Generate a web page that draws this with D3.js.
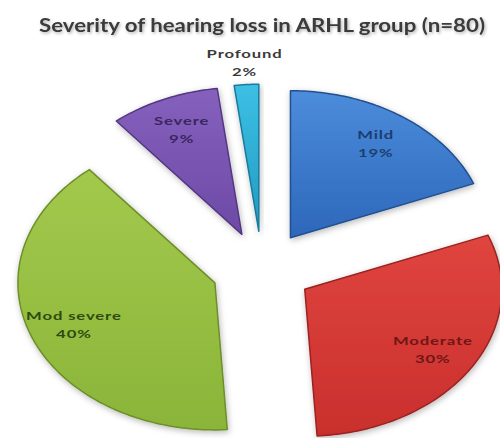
<!DOCTYPE html>
<html>
<head>
<meta charset="utf-8">
<script src="https://cdn.jsdelivr.net/npm/d3@7"></script>
<style>
  body { margin: 0; background: #fff; }
  svg { display: block; }
</style>
</head>
<body>
<svg id="chart" width="500" height="438"></svg>
<script>
// Severity of hearing loss, percentage of the ARHL group in each category
const title = "Severity of hearing loss in ARHL group (n=80)";
const categories = ["Mild", "Moderate", "Mod severe", "Severe", "Profound"];
const shares = [19, 30, 40, 9, 2];

// slice fills: light top, dark bottom, outline, label ink
const palette = [
  { top: "#4c8cdb", bottom: "#2d67ba", edge: "#21508f", ink: "#1c3d70" },
  { top: "#e0453f", bottom: "#c92f2d", edge: "#9a2321", ink: "#6e1616" },
  { top: "#a3c94c", bottom: "#8ab539", edge: "#6d8f2a", ink: "#2f4a0f" },
  { top: "#8561bd", bottom: "#6d4aa6", edge: "#533781", ink: "#3a2560" },
  { top: "#3cc0e4", bottom: "#2399c2", edge: "#1a7a9d", ink: "#3a3a3a" }
];

const W = 500, H = 438;
const cx = 262, cy = 269;     // pie centre
const rx = 197, ry = 147;     // pie radii (flattened disc)
const explode = 0.257;        // slice pull-out, in radius units
const labelR = 0.77, outsideR = 1.15;
const textStretch = 1.45;

const svg = d3.select("#chart");

// unit disc -> pixels
const x = d3.scaleLinear().domain([-1, 1]).range([cx - rx, cx + rx]);
const y = d3.scaleLinear().domain([-1, 1]).range([cy - ry, cy + ry]);

const pie = d3.pie().sort(null).value(d => d);
const arcs = pie(shares);

const defs = svg.append("defs");
arcs.forEach((a, i) => {
  const g = defs.append("linearGradient")
    .attr("id", "fill" + i)
    .attr("x1", 0).attr("y1", 0).attr("x2", 0).attr("y2", 1);
  g.append("stop").attr("offset", "0%").attr("stop-color", palette[i].top);
  g.append("stop").attr("offset", "100%").attr("stop-color", palette[i].bottom);
});
const shadow = defs.append("filter").attr("id", "shadow")
  .attr("x", "-20%").attr("y", "-20%").attr("width", "140%").attr("height", "140%");
shadow.append("feDropShadow")
  .attr("dx", 1).attr("dy", 2).attr("stdDeviation", 3)
  .attr("flood-color", "#000").attr("flood-opacity", 0.28);

const titleShadow = defs.append("filter").attr("id", "tshadow")
  .attr("x", "-5%").attr("y", "-40%").attr("width", "110%").attr("height", "180%");
titleShadow.append("feDropShadow")
  .attr("dx", 1).attr("dy", 1.5).attr("stdDeviation", 1.5)
  .attr("flood-color", "#000").attr("flood-opacity", 0.3);

const line = d3.line().x(p => x(p[0])).y(p => y(p[1])).curve(d3.curveLinearClosed);

// outline of one exploded slice in unit coordinates
function sliceOutline(a) {
  const mid = (a.startAngle + a.endAngle) / 2;
  const ox = explode * Math.sin(mid), oy = -explode * Math.cos(mid);
  const pts = [[ox, oy]];
  const steps = Math.max(4, Math.ceil((a.endAngle - a.startAngle) / (Math.PI / 180)));
  for (let k = 0; k <= steps; k++) {
    const t = a.startAngle + (a.endAngle - a.startAngle) * k / steps;
    pts.push([ox + Math.sin(t), oy - Math.cos(t)]);
  }
  return pts;
}

svg.append("g").selectAll("path")
  .data(arcs)
  .join("path")
  .attr("d", a => line(sliceOutline(a)))
  .attr("fill", (a, i) => `url(#fill${i})`)
  .attr("stroke", (a, i) => palette[i].edge)
  .attr("stroke-width", 1.5)
  .attr("stroke-linejoin", "round")
  .attr("filter", "url(#shadow)");

// labels: category name and percentage
const labels = svg.append("g")
  .attr("font-family", "Lato, 'Open Sans', sans-serif")
  .attr("font-weight", "bold")
  .attr("font-size", 11.5)
  .attr("letter-spacing", 0.6)
  .attr("text-anchor", "middle");

arcs.forEach((a, i) => {
  const mid = (a.startAngle + a.endAngle) / 2;
  const r = shares[i] < 5 ? outsideR : labelR;
  const u = explode * Math.sin(mid) + r * Math.sin(mid);
  const v = -explode * Math.cos(mid) - r * Math.cos(mid);
  const t = labels.append("text")
    .attr("transform", `translate(${x(u)},${y(v)}) scale(${textStretch},1)`)
    .attr("fill", palette[i].ink);
  t.append("tspan").attr("x", 0).attr("y", -5).text(categories[i]);
  t.append("tspan").attr("x", 0).attr("y", 13).text(shares[i] + "%");
});

svg.append("text")
  .attr("transform", `translate(262,32) scale(1.235,1)`)
  .attr("text-anchor", "middle")
  .attr("font-family", "Lato, 'Open Sans', sans-serif")
  .attr("font-weight", "bold")
  .attr("font-size", 18)
  .attr("fill", "#3a3a3a")
  .attr("filter", "url(#tshadow)")
  .text(title);
</script>
</body>
</html>
